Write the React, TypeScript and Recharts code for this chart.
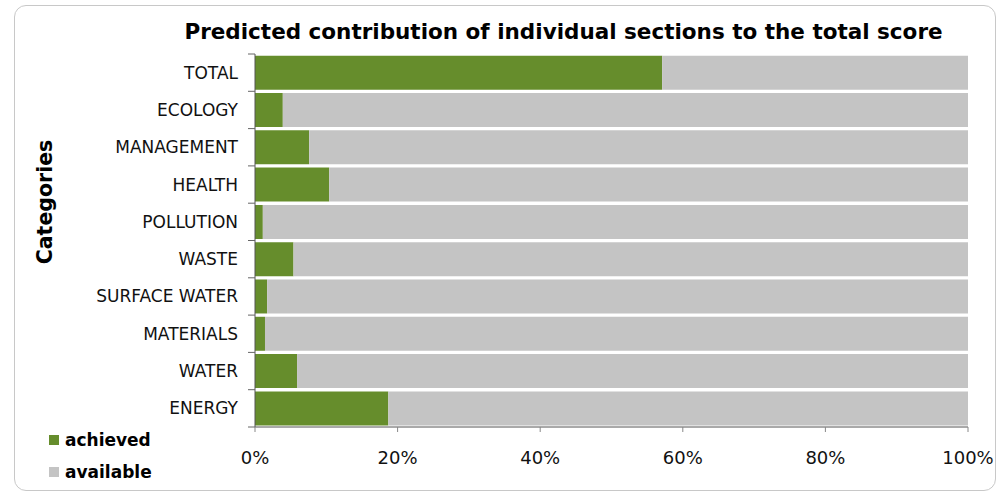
import { BarChart, Bar, XAxis, YAxis } from 'recharts'

const categories = ['TOTAL', 'ECOLOGY', 'MANAGEMENT', 'HEALTH', 'POLLUTION', 'WASTE', 'SURFACE WATER', 'MATERIALS', 'WATER', 'ENERGY']
const achieved = [57.1, 3.9, 7.6, 10.4, 1.1, 5.4, 1.7, 1.4, 5.9, 18.7]
const available = [42.9, 96.1, 92.4, 89.6, 98.9, 94.6, 98.3, 98.6, 94.1, 81.3]
const xTicks = [0, 20, 40, 60, 80, 100]

const GREEN = '#668d2c'
const GREY = '#c4c4c4'
const FONT = '"DejaVu Sans", Verdana, sans-serif'

const data = categories.map((name, i) => ({ name, achieved: achieved[i], available: available[i] }))

const CategoryTick = (props: any) => {
  const { x, y, payload, index } = props
  const half = payload && payload.offset ? payload.offset : 18.65
  return (
    <g>
      <text x={x - 9} y={y} dy={6} textAnchor="end" fontSize={17} fill="#111" fontFamily={FONT}>
        {payload.value}
      </text>
      <line x1={x + 1} x2={x + 8} y1={y + half} y2={y + half} stroke="#666" />
      {index === 0 && <line x1={x + 1} x2={x + 8} y1={y - half} y2={y - half} stroke="#666" />}
    </g>
  )
}

export default function App() {
  return (
    <div style={{ position: 'absolute', left: 0, top: 0, width: 1003, height: 497, background: '#fff', fontFamily: FONT }}>
      <div style={{ position: 'absolute', left: 14, top: 5, width: 980, height: 484, border: '1px solid #c8c8c8', borderRadius: 12 }} />
      <div style={{ position: 'absolute', left: 0, width: 1003, top: 19, paddingLeft: 124, boxSizing: 'border-box', textAlign: 'center', fontSize: 21.5, fontWeight: 'bold', color: '#000', whiteSpace: 'nowrap' }}>
        Predicted contribution of individual sections to the total score
      </div>
      <div style={{ position: 'absolute', left: 45, top: 202, transform: 'translate(-50%, -50%) rotate(-90deg)', fontSize: 20.5, fontWeight: 'bold', whiteSpace: 'nowrap' }}>
        Categories
      </div>
      <BarChart
        width={1003}
        height={497}
        data={data}
        layout="vertical"
        barCategoryGap="4.5%"
        margin={{ top: 54, right: 35, left: 0, bottom: 40 }}
      >
        <XAxis
          type="number"
          domain={[0, 100]}
          ticks={xTicks}
          tickFormatter={(v) => `${v}%`}
          height={30}
          tickSize={5}
          tickMargin={19}
          axisLine={{ stroke: '#555' }}
          tickLine={{ stroke: '#888' }}
          tick={{ fontSize: 18, fill: '#111', fontFamily: FONT }}
        />
        <YAxis
          type="category"
          dataKey="name"
          width={255}
          axisLine={{ stroke: '#555' }}
          tickLine={false}
          interval={0}
          tick={<CategoryTick />}
        />
        <Bar dataKey="achieved" stackId="a" fill={GREEN} isAnimationActive={false} />
        <Bar dataKey="available" stackId="a" fill={GREY} isAnimationActive={false} />
      </BarChart>
      <div style={{ position: 'absolute', left: 49, top: 429, fontSize: 17, fontWeight: 'bold', lineHeight: '22px' }}>
        <div style={{ display: 'flex', alignItems: 'center' }}>
          <span style={{ width: 10, height: 10, background: GREEN, marginRight: 6, display: 'inline-block' }} />
          achieved
        </div>
        <div style={{ display: 'flex', alignItems: 'center', marginTop: 10 }}>
          <span style={{ width: 10, height: 10, background: GREY, marginRight: 6, display: 'inline-block' }} />
          available
        </div>
      </div>
    </div>
  )
}
